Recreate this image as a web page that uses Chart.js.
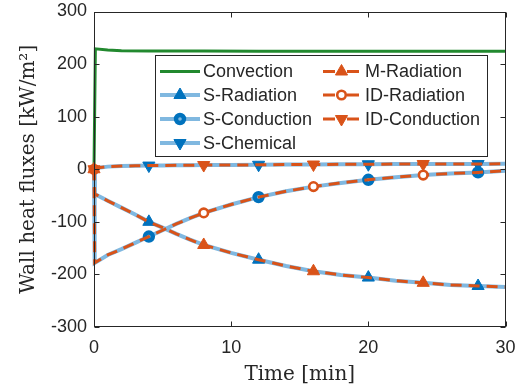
<!DOCTYPE html>
<html><head><meta charset="utf-8">
<script src="https://cdn.jsdelivr.net/npm/chart.js@4"></script>
<style>html,body{margin:0;padding:0;background:#fff;}#wrap{width:521px;height:390px;position:relative;}</style>
</head><body><div id="wrap"><canvas id="c" width="521" height="390"></canvas></div>
<script>
// ---- data ----
const time = [0, 0.05, 1, 2, 3, 4, 5, 6, 7, 8, 10, 12, 14, 16, 18, 20, 22, 24, 26, 28, 30];
const convTime = [0, 0.1, 1, 2, 4, 8, 12, 16, 20, 24, 28, 30];
const convection = [0, 229, 227, 225.5, 225, 225, 224.5, 224.5, 224.5, 224.5, 224.5, 224.5];
const sRadiation = [0, -47, -60, -73, -86, -100, -111, -123, -134, -144, -159, -172, -184, -194, -201, -206, -212, -216, -220, -222, -224];
const sConduction = [0, -178, -163, -152, -140, -128, -116, -104, -93, -83, -67, -53, -42, -33, -26, -20, -15, -11, -8, -6, -3];
const sChemical = [0, 2, 5, 6, 6.5, 7, 7, 7.5, 7.5, 8, 8, 8.5, 9, 9, 9.5, 9.5, 10, 10, 10, 10, 10.5];
const mRadiation = [0, -47, -60, -73, -86, -100, -111, -123, -134, -144, -159, -172, -184, -194, -201, -206, -212, -216, -220, -222, -224];
const idRadiation = [0, -178, -163, -152, -140, -128, -116, -104, -93, -83, -67, -53, -42, -33, -26, -20, -15, -11, -8, -6, -3];
const idConduction = [0, 2, 5, 6, 6.5, 7, 7, 7.5, 7.5, 8, 8, 8.5, 9, 9, 9.5, 9.5, 10, 10, 10, 10, 10.5];
const sMarkerTimes = [4, 12, 20, 28];
const oMarkerTimes = [0, 8, 16, 24];
const xTicks = [0, 10, 20, 30];
const yTicks = [-300, -200, -100, 0, 100, 200, 300];
const labels = ['Convection', 'S-Radiation', 'S-Conduction', 'S-Chemical', 'M-Radiation', 'ID-Radiation', 'ID-Conduction'];

// ---- styles ----
const GREEN = '#22892F', LIGHT = '#80B8E0', BLUE = '#0072BD', ORANGE = '#D95319', AXIS = '#262626';
const pts = (xs, ys) => xs.map((x, i) => ({x: x, y: ys[i]}));
const rad = (marks, r) => ctx => (marks.includes(time[ctx.dataIndex]) ? r : 0);

const mk = {
  sTri: {pointStyle: 'triangle', rotation: 0, radius: 7, borderWidth: 1, bg: BLUE, bc: BLUE},
  sCir: {pointStyle: 'circle', rotation: 0, radius: 4, borderWidth: 4.4, bg: 'rgba(0,0,0,0)', bc: BLUE},
  sDown: {pointStyle: 'triangle', rotation: 180, radius: 7, borderWidth: 1, bg: BLUE, bc: BLUE},
  oTri: {pointStyle: 'triangle', rotation: 0, radius: 7, borderWidth: 1, bg: ORANGE, bc: ORANGE},
  oCir: {pointStyle: 'circle', rotation: 0, radius: 4.3, borderWidth: 2.6, bg: '#ffffff', bc: ORANGE},
  oDown: {pointStyle: 'triangle', rotation: 180, radius: 7, borderWidth: 1, bg: ORANGE, bc: ORANGE}
};

function sDs(label, ys, m, order) {
  return {label, data: pts(time, ys), borderColor: LIGHT, borderWidth: 4, order,
    pointStyle: m.pointStyle, rotation: m.rotation, pointRadius: rad(sMarkerTimes, m.radius),
    pointBorderWidth: m.borderWidth, pointBackgroundColor: m.bg, pointBorderColor: m.bc, clip: false, tension: 0};
}
function oDs(label, ys, m, order) {
  return {label, data: pts(time, ys), borderColor: ORANGE, borderWidth: 3, borderDash: [11, 7], order,
    pointStyle: m.pointStyle, rotation: m.rotation, pointRadius: rad(oMarkerTimes, m.radius),
    pointBorderWidth: m.borderWidth, pointBackgroundColor: m.bg, pointBorderColor: m.bc, clip: false, tension: 0};
}

const datasets = [
  {label: labels[0], data: pts(convTime, convection), borderColor: GREEN, borderWidth: 3, pointRadius: 0, order: 7, clip: false},
  sDs(labels[1], sRadiation, mk.sTri, 6),
  sDs(labels[2], sConduction, mk.sCir, 5),
  sDs(labels[3], sChemical, mk.sDown, 4),
  oDs(labels[4], mRadiation, mk.oTri, 3),
  oDs(labels[5], idRadiation, mk.oCir, 2),
  oDs(labels[6], idConduction, mk.oDown, 1)
];

const frame = {
  id: 'frame',
  afterDatasetsDraw(chart) {
    const {ctx, chartArea: a, scales} = chart;
    const L = Math.round(a.left) + 0.5, R = Math.round(a.right) - 0.5, T = Math.round(a.top) + 0.5, B = Math.round(a.bottom) - 0.5;
    ctx.save();
    ctx.strokeStyle = AXIS; ctx.lineWidth = 1;
    ctx.strokeRect(L, T, R - L, B - T);
    ctx.beginPath();
    xTicks.forEach(v => {
      const x = Math.round(scales.x.getPixelForValue(v)) + 0.5;
      ctx.moveTo(x, B); ctx.lineTo(x, B - 5);
      ctx.moveTo(x, T); ctx.lineTo(x, T + 5);
    });
    yTicks.forEach(v => {
      const y = Math.round(scales.y.getPixelForValue(v)) + 0.5;
      ctx.moveTo(L, y); ctx.lineTo(L + 5, y);
      ctx.moveTo(R, y); ctx.lineTo(R - 5, y);
    });
    ctx.stroke();
    ctx.restore();
  },
  afterDraw(chart) {
    const ctx = chart.ctx;
    const bx = 155.5, by = 55.5, bw = 332, bh = 101;
    ctx.save();
    ctx.fillStyle = '#fff'; ctx.fillRect(bx, by, bw, bh);
    ctx.strokeStyle = AXIS; ctx.lineWidth = 1; ctx.strokeRect(bx, by, bw, bh);
    const rows = [71.5, 95, 119, 143];
    ctx.font = '18px "Liberation Sans", Arial, sans-serif';
    ctx.textBaseline = 'middle'; ctx.textAlign = 'left'; ctx.fillStyle = AXIS;
    const items = [
      {i: 0, col: 0, row: 0, kind: 'g'},
      {i: 1, col: 0, row: 1, kind: 's', m: mk.sTri},
      {i: 2, col: 0, row: 2, kind: 's', m: mk.sCir},
      {i: 3, col: 0, row: 3, kind: 's', m: mk.sDown},
      {i: 4, col: 1, row: 0, kind: 'o', m: mk.oTri},
      {i: 5, col: 1, row: 1, kind: 'o', m: mk.oCir},
      {i: 6, col: 1, row: 2, kind: 'o', m: mk.oDown}
    ];
    items.forEach(it => {
      const y = rows[it.row];
      const x0 = it.col === 0 ? 160 : 323, x1 = it.col === 0 ? 200 : 360, xm = (x0 + x1) / 2;
      const tx = it.col === 0 ? 203 : 365;
      ctx.save();
      if (it.kind === 'g') { ctx.strokeStyle = GREEN; ctx.lineWidth = 3; }
      else if (it.kind === 's') { ctx.strokeStyle = LIGHT; ctx.lineWidth = 4; }
      else { ctx.strokeStyle = ORANGE; ctx.lineWidth = 3; ctx.setLineDash([12, 12]); }
      ctx.beginPath(); ctx.moveTo(x0, y); ctx.lineTo(x1, y); ctx.stroke();
      ctx.restore();
      if (it.m) {
        ctx.save();
        ctx.fillStyle = it.m.bg; ctx.strokeStyle = it.m.bc; ctx.lineWidth = it.m.borderWidth;
        Chart.helpers.drawPoint(ctx, {pointStyle: it.m.pointStyle, rotation: it.m.rotation, radius: it.m.radius, borderWidth: it.m.borderWidth}, xm, y);
        ctx.restore();
      }
      ctx.fillStyle = AXIS;
      ctx.fillText(labels[it.i], tx, y + 1);
    });
    ctx.restore();
  }
};

new Chart(document.getElementById('c'), {
  type: 'line',
  data: {datasets},
  options: {
    responsive: false, animation: false, devicePixelRatio: 1,
    layout: {padding: {left: 0, right: 15.5, top: 11.5, bottom: 0}},
    plugins: {legend: {display: false}, tooltip: {enabled: false}},
    scales: {
      x: {
        type: 'linear', min: 0, max: 30,
        afterBuildTicks: s => { s.ticks = xTicks.map(v => ({value: v})); },
        afterFit: s => { s.height = 63; s.paddingLeft = 0; s.paddingRight = 0; },
        grid: {display: false, drawTicks: false}, border: {display: false},
        ticks: {color: AXIS, padding: 10, maxRotation: 0, font: {family: '"Liberation Sans", Arial, sans-serif', size: 18}},
        title: {display: true, text: 'Time [min]', color: AXIS, padding: {top: 0, bottom: 3}, font: {family: '"DejaVu Serif", serif', size: 20}}
      },
      y: {
        type: 'linear', min: -300, max: 300,
        afterBuildTicks: s => { s.ticks = yTicks.map(v => ({value: v})); },
        afterFit: s => { s.width = 94; s.paddingTop = 0; s.paddingBottom = 0; },
        grid: {display: false, drawTicks: false}, border: {display: false},
        ticks: {color: AXIS, padding: 7, font: {family: '"Liberation Sans", Arial, sans-serif', size: 18}},
        title: {display: true, text: 'Wall heat fluxes [kW/m²]', color: AXIS, padding: {top: 17, bottom: 0}, font: {family: '"DejaVu Serif", serif', size: 20}}
      }
    }
  },
  plugins: [frame]
});
</script></body></html>
